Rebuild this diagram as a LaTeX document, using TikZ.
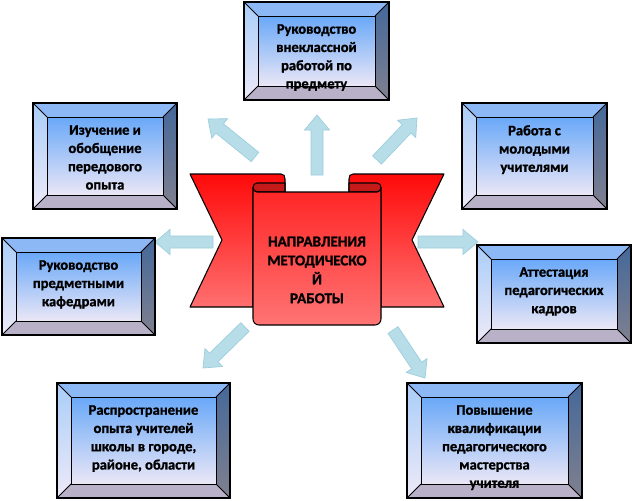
\documentclass[tikz,border=0pt]{standalone}
\usepackage{fontspec}
\setmainfont{Carlito}[BoldFeatures={FakeBold=1.2}]
\usetikzlibrary{calc}
\definecolor{arrowfill}{HTML}{B7DEE8}
\definecolor{arrowline}{HTML}{9CCDDC}
\definecolor{bvtop}{HTML}{8DB8F6}
\definecolor{bvleftT}{HTML}{A9CDF8}
\definecolor{bvleftB}{HTML}{EEEAF8}
\definecolor{bvrightT}{HTML}{44689A}
\definecolor{bvrightB}{HTML}{80808F}
\definecolor{bvbot}{HTML}{B9B1C7}
\definecolor{inT}{HTML}{69A8F8}
\definecolor{inB}{HTML}{EBE7F6}
\definecolor{redT}{HTML}{FF0A0A}
\definecolor{redB}{HTML}{FF7070}
\definecolor{panT}{HTML}{FF2424}
\definecolor{panB}{HTML}{FF7474}
\definecolor{darkred}{HTML}{C41A1A}
\tikzset{
  boxtext/.style={align=center, inner sep=0pt, font=\fontsize{10.9}{13.7}\selectfont\bfseries},
  centertext/.style={align=center, inner sep=0pt, font=\fontsize{11.3}{14.2}\selectfont\bfseries},
  arrowstyle/.style={fill=arrowfill, draw=arrowline, line width=0.5pt, line join=miter},
  ribbonline/.style={draw=black, line width=0.8pt, line join=round}
}
\newcommand\bevelbox[6]{%
 \fill[bvtop] (#2,#3) -- (#4,#3) -- ({#4-14},{#3+14}) -- ({#2+14},{#3+14}) -- cycle;
 \shade[top color=bvleftT, bottom color=bvleftB] (#2,#3) -- ({#2+14},{#3+14}) -- ({#2+14},{#5-14}) -- (#2,#5) -- cycle;
 \shade[top color=bvrightT, bottom color=bvrightB] (#4,#3) -- (#4,#5) -- ({#4-14},{#5-14}) -- ({#4-14},{#3+14}) -- cycle;
 \fill[bvbot] (#2,#5) -- (#4,#5) -- ({#4-14},{#5-14}) -- ({#2+14},{#5-14}) -- cycle;
 \shadedraw[top color=inT, bottom color=inB, draw=black, line width=0.6pt] ({#2+14},{#3+14}) rectangle ({#4-14},{#5-14});
 \draw[line width=0.6pt] (#2,#3) -- ({#2+14},{#3+14}) (#4,#3) -- ({#4-14},{#3+14}) (#2,#5) -- ({#2+14},{#5-14}) (#4,#5) -- ({#4-14},{#5-14});
 \draw[line width=1.1pt] (#2,#3) rectangle (#4,#5);
 \node[boxtext, anchor=north] (#1) at ({(#2+#4)/2},{#3+22}) {#6};
}
\newcommand\blockarrow[3]{%
 \coordinate (#1h) at ($(#3)!11.25pt!(#2)$);
 \filldraw[arrowstyle] ($(#2)!4.5pt!90:(#3)$) -- ($(#1h)!4.5pt!90:(#3)$) -- ($(#1h)!9.4pt!90:(#3)$) -- (#3) -- ($(#1h)!9.4pt!-90:(#3)$) -- ($(#1h)!4.5pt!-90:(#3)$) -- ($(#2)!4.5pt!-90:(#3)$) -- cycle;
}
\begin{document}
\begin{tikzpicture}[x=0.75pt, y=-0.75pt]
\useasboundingbox (0,0) rectangle (632,500);
\fill[white] (0,0) rectangle (632,500);

% arrows
\coordinate (uT) at (317,175); \coordinate (uP) at (317,115);
\coordinate (ulT) at (255,157); \coordinate (ulP) at (208,119);
\coordinate (urT) at (377,160); \coordinate (urP) at (417,118);
\coordinate (lT) at (213,242); \coordinate (lP) at (155,242);
\coordinate (rT) at (418,242); \coordinate (rP) at (478,242);
\coordinate (llT) at (245,327); \coordinate (llP) at (203,368);
\coordinate (lrT) at (393,330); \coordinate (lrP) at (425,378);
\blockarrow{u}{uT}{uP}
\blockarrow{ul}{ulT}{ulP}
\blockarrow{ur}{urT}{urP}
\blockarrow{l}{lT}{lP}
\blockarrow{r}{rT}{rP}
\blockarrow{ll}{llT}{llP}
\blockarrow{lr}{lrT}{lrP}

% banner wings
\shadedraw[top color=redT, bottom color=redB, ribbonline] (190,174) -- (281,174) .. controls (284,174) and (285,176) .. (285,179) -- (285,192) -- (253,192) -- (253,307) -- (190,307) -- (222,240) -- cycle;
\shadedraw[top color=redT, bottom color=redB, ribbonline] (444,174) -- (353,174) .. controls (350,174) and (349,176) .. (349,179) -- (349,192) -- (381,192) -- (381,307) -- (444,307) -- (412,240) -- cycle;
% rolls
\filldraw[fill=darkred, ribbonline] (285,183) -- (257,183) .. controls (254.5,183) and (253,185) .. (253,187.5) .. controls (253,190) and (254.5,192) .. (257,192) -- (285,192) -- cycle;
\filldraw[fill=darkred, ribbonline] (349,183) -- (377,183) .. controls (379.5,183) and (381,185) .. (381,187.5) .. controls (381,190) and (379.5,192) .. (377,192) -- (349,192) -- cycle;
% front panel
\shadedraw[top color=panT, bottom color=panB, ribbonline] (253,187.5) .. controls (253,190) and (254.5,192) .. (257,192) -- (377,192) .. controls (379.5,192) and (381,190) .. (381,187.5) [rounded corners=4.5pt] -- (381,325) -- (253,325) [sharp corners] -- cycle;
\node[centertext] (center) at (317,270) {НАПРАВЛЕНИЯ\\МЕТОДИЧЕСКО\\Й\\РАБОТЫ};

% boxes
\bevelbox{b1}{244}{2}{389}{100}{Руководство\\внеклассной\\работой по\\предмету}
\bevelbox{b2}{33}{103}{177}{209}{Изучение и\\обобщение\\передового\\опыта}
\bevelbox{b3}{2}{238}{155}{335}{Руководство\\предметными\\кафедрами}
\bevelbox{b4}{462}{103}{607}{209}{Работа с\\молодыми\\учителями}
\bevelbox{b5}{477}{245}{631}{343}{Аттестация\\педагогических\\кадров}
\bevelbox{b6}{57}{383}{230}{498}{Распространение\\опыта учителей\\школы в городе,\\районе, области}
\bevelbox{b7}{407}{383}{582}{498}{Повышение\\квалификации\\педагогического\\мастерства\\учителя}
\end{tikzpicture}
\end{document}
